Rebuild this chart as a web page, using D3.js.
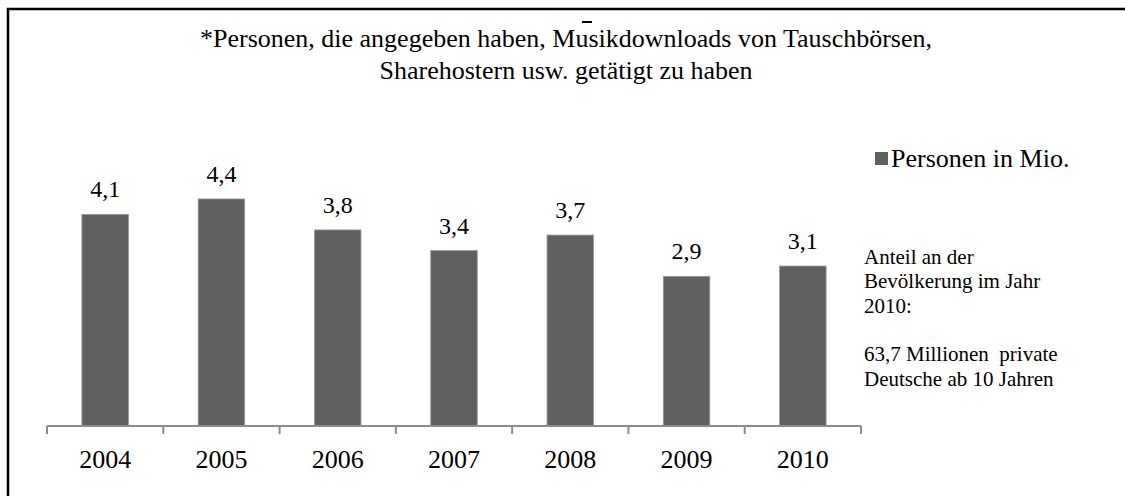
<!DOCTYPE html>
<meta charset="utf-8">
<style>
  body { margin: 0; background: #fff; }
  svg text { font-family: "Liberation Serif", "Times New Roman", serif; fill: #000; }
  .title { font-size: 26px; text-anchor: middle; }
  .value { font-size: 24px; text-anchor: middle; }
  .axis text { font-size: 26px; }
  .legend { font-size: 26px; }
  .note { font-size: 21px; white-space: pre; }
</style>
<svg width="1125" height="496"></svg>
<script src="https://d3js.org/d3.v7.min.js"></script>
<script>
var years = ["2004", "2005", "2006", "2007", "2008", "2009", "2010"];
var values = [4.1, 4.4, 3.8, 3.4, 3.7, 2.9, 3.1];
var valueLabels = ["4,1", "4,4", "3,8", "3,4", "3,7", "2,9", "3,1"];
var seriesName = "Personen in Mio.";
var titleLines = ["*Personen, die angegeben haben, Musikdownloads von Tauschbörsen,",
                  "Sharehostern usw. getätigt zu haben"];
var noteLines = ["Anteil an der", "Bevölkerung im Jahr", "2010:", "", "63,7 Millionen  private", "Deutsche ab 10 Jahren"];

var svg = d3.select("svg");

// frame (right and bottom edges are cut off in the original)
svg.append("path")
    .attr("d", "M8,497V9H1126")
    .attr("fill", "none")
    .attr("stroke", "#000")
    .attr("stroke-width", 2.5);

// leftover glyph above the title
svg.append("rect")
    .attr("x", 582).attr("y", 21).attr("width", 10).attr("height", 2)
    .attr("fill", "#000");

svg.selectAll(".title")
    .data(titleLines)
    .enter().append("text")
    .attr("class", "title")
    .attr("x", 566)
    .attr("y", function(d, i) { return 47 + i * 32; })
    .text(function(d) { return d; });

var x = d3.scaleBand()
    .domain(years)
    .range([47, 861])
    .paddingInner(0.6)
    .paddingOuter(0.3);

var y = d3.scaleLinear()
    .domain([0, 5])
    .range([426, 168]);

svg.selectAll(".bar")
    .data(values)
    .enter().append("rect")
    .attr("class", "bar")
    .attr("x", function(d, i) { return x(years[i]); })
    .attr("y", function(d) { return y(d); })
    .attr("width", x.bandwidth())
    .attr("height", function(d) { return y(0) - y(d); })
    .attr("fill", "#606060")
    .attr("stroke", "#9a9a9a")
    .attr("stroke-width", 0.8);

svg.selectAll(".value")
    .data(values)
    .enter().append("text")
    .attr("class", "value")
    .attr("x", function(d, i) { return x(years[i]) + x.bandwidth() / 2; })
    .attr("y", function(d) { return y(d) - 17; })
    .text(function(d, i) { return valueLabels[i]; });

// category axis with ticks between the categories
var step = x.step();
var tickPos = years.map(function(d) { return x(d) + x.bandwidth() / 2 - step / 2; });
tickPos.push(x.range()[1]);

var axis = svg.append("g").attr("class", "axis");
axis.append("line")
    .attr("x1", 47).attr("x2", 861)
    .attr("y1", y(0)).attr("y2", y(0))
    .attr("stroke", "#8c8c8c")
    .attr("stroke-width", 2);
axis.selectAll(".tick")
    .data(tickPos)
    .enter().append("line")
    .attr("x1", function(d) { return d; })
    .attr("x2", function(d) { return d; })
    .attr("y1", y(0)).attr("y2", y(0) + 8)
    .attr("stroke", "#8c8c8c")
    .attr("stroke-width", 2);
axis.selectAll("text")
    .data(years)
    .enter().append("text")
    .attr("x", function(d) { return x(d) + x.bandwidth() / 2; })
    .attr("y", 468)
    .attr("text-anchor", "middle")
    .text(function(d) { return d; });

// legend
var legend = svg.append("g").attr("class", "legend");
legend.append("rect")
    .attr("x", 875).attr("y", 152).attr("width", 13).attr("height", 13)
    .attr("fill", "#606060");
legend.append("text")
    .attr("x", 891).attr("y", 167)
    .text(seriesName);

svg.selectAll(".note")
    .data(noteLines)
    .enter().append("text")
    .attr("class", "note")
    .attr("x", 864)
    .attr("y", function(d, i) { return 264 + i * 24.3; })
    .text(function(d) { return d; });
</script>
